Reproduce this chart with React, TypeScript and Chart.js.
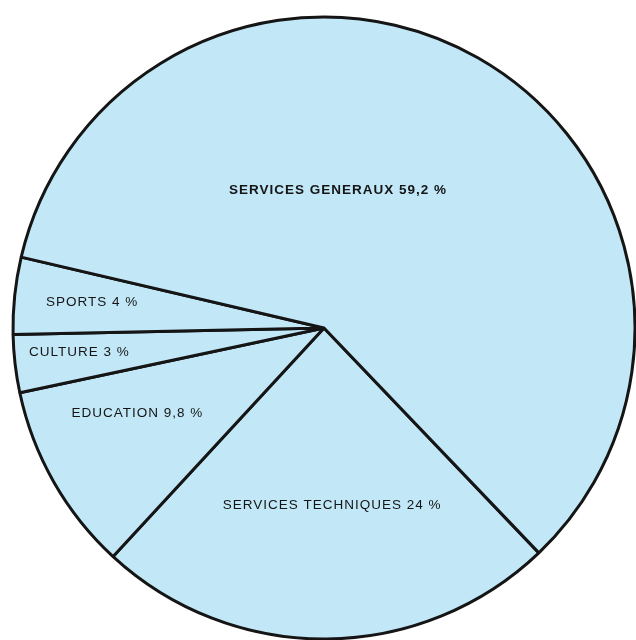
import React, { useEffect, useRef } from "react";
import { Chart, registerables } from "chart.js";

Chart.register(...registerables);

// Data (clockwise order starting at the lower-right boundary)
const categories = ["SERVICES TECHNIQUES", "EDUCATION", "CULTURE", "SPORTS", "SERVICES GENERAUX"];
const values = [24, 9.8, 3, 4, 59.2];
const valueTexts = ["24", "9,8", "3", "4", "59,2"];

// Label placement (angle in canvas degrees, fraction of radius)
const labelAngles = [87.4, 155.4, 174.4, 186.4, 275.8];
const labelRadii = [0.57, 0.66, 0.79, 0.75, 0.446];

const FILL = "#c2e8f8";
const INK = "#151515";

const labelPlugin = {
  id: "sliceLabels",
  afterDatasetsDraw(chart: any) {
    const meta = chart.getDatasetMeta(0);
    const ctx = chart.ctx as CanvasRenderingContext2D;
    ctx.save();
    ctx.fillStyle = INK;
    ctx.textAlign = "center";
    ctx.textBaseline = "middle";
    (ctx as any).letterSpacing = "1px";
    meta.data.forEach((arc: any, i: number) => {
      const { x, y, outerRadius } = arc.getProps(["x", "y", "outerRadius"], true);
      const a = (labelAngles[i] * Math.PI) / 180;
      const r = outerRadius * labelRadii[i];
      const px = x + Math.cos(a) * r;
      const py = y + Math.sin(a) * r;
      ctx.font = (i === 4 ? "bold " : "") + "13.5px 'Liberation Sans', Arial, sans-serif";
      ctx.fillText(`${categories[i]} ${valueTexts[i]} %`, px, py);
    });
    ctx.restore();
  },
};

export default function App() {
  const ref = useRef<HTMLCanvasElement | null>(null);

  useEffect(() => {
    document.body.style.margin = "0";
    document.body.style.background = "#ffffff";
    if (!ref.current) return;
    const chart = new Chart(ref.current, {
      type: "pie",
      data: {
        labels: categories,
        datasets: [
          {
            data: values,
            backgroundColor: FILL,
            borderColor: INK,
            borderWidth: 3,
            borderJoinStyle: "bevel",
          } as any,
        ],
      },
      options: {
        responsive: false,
        animation: false,
        devicePixelRatio: 1,
        rotation: 136.3,
        radius: 311,
        layout: { padding: { left: 12, right: 0, top: 16, bottom: 0 } },
        plugins: {
          legend: { display: false },
          tooltip: { enabled: false },
          title: { display: false },
        },
      } as any,
      plugins: [labelPlugin],
    });
    return () => chart.destroy();
  }, []);

  return (
    <div style={{ width: 636, height: 640, background: "#ffffff" }}>
      <canvas ref={ref} width={636} height={640} style={{ display: "block" }} />
    </div>
  );
}
